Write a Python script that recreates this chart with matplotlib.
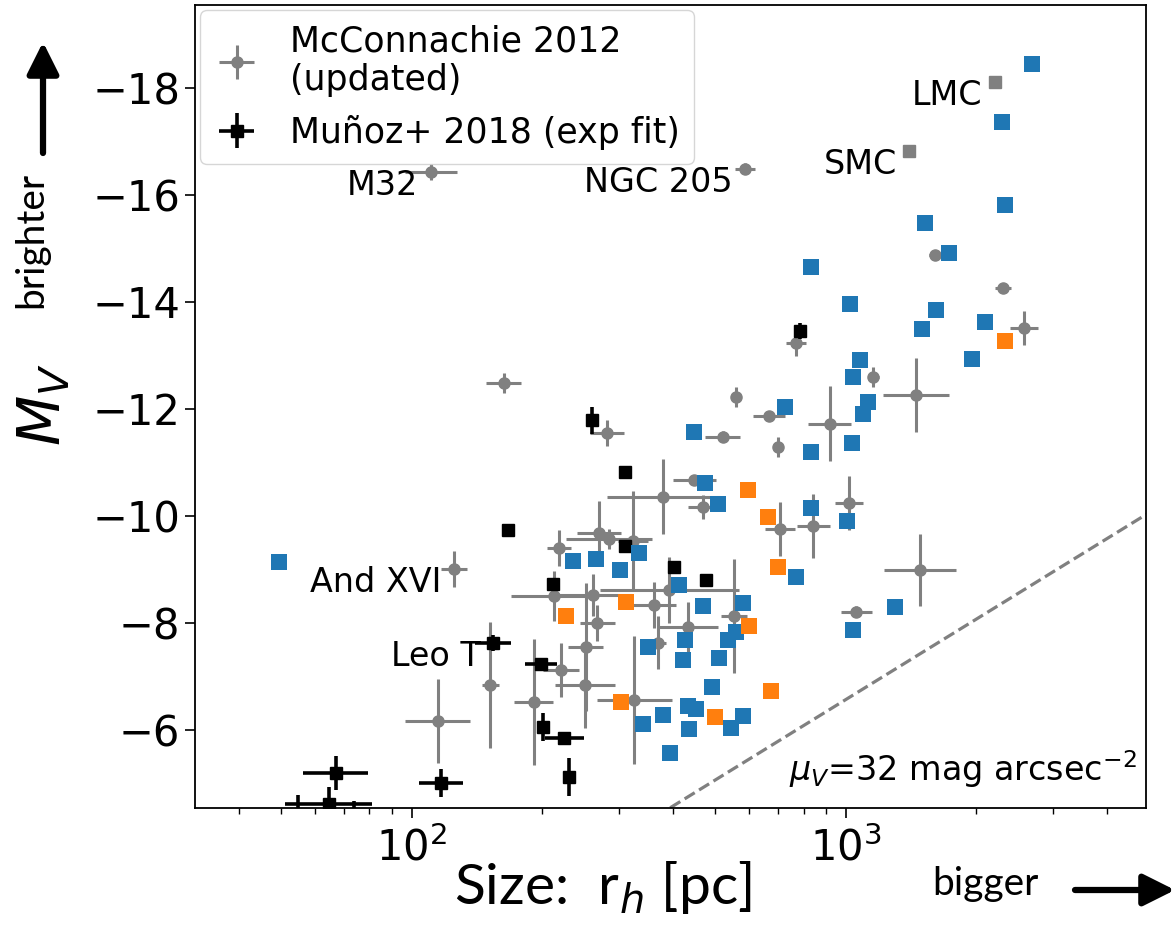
import numpy as np
import matplotlib
matplotlib.use("Agg")
import matplotlib.pyplot as plt

# McConnachie 2012 (updated): half-light radius [pc], M_V, errors (dex in r_h, mag in M_V)
mc_r = [110.6, 586, 163, 282, 380, 270, 285, 324, 219, 125, 213, 262, 268, 362, 392,
        152, 221, 252, 251, 191, 326, 115, 370, 433, 553, 1059, 1486, 705, 843, 1016,
        469, 448, 521, 698, 665, 558, 918, 1159, 1449, 767, 1603, 2307, 2578]
mc_mv = [-16.43, -16.49, -12.49, -11.55, -10.36, -9.68, -9.57, -9.53, -9.40, -9.01,
         -8.50, -8.52, -8.00, -8.34, -8.62, -6.84, -7.12, -7.55, -6.84, -6.52, -6.56,
         -6.17, -7.63, -7.93, -8.13, -8.21, -8.99, -9.76, -9.81, -10.24, -10.17, -10.67,
         -11.48, -11.29, -11.87, -12.22, -11.72, -12.60, -12.26, -13.23, -14.88, -14.26,
         -13.51]
mc_rerr_dex = [0.06, 0.023, 0.041, 0.04, 0.13, 0.05, 0.1, 0.035, 0.028, 0.03, 0.1, 0.09,
               0.04, 0.05, 0.16, 0.02, 0.042, 0.04, 0.07, 0.044, 0.087, 0.075, 0.018,
               0.07, 0.03, 0.035, 0.083, 0.035, 0.037, 0.032, 0.035, 0.05, 0.04, 0.008,
               0.037, 0.01, 0.05, 0.012, 0.076, 0.023, 0.014, 0.018, 0.032]
mc_mverr = [0.15, 0.1, 0.19, 0.25, 0.7, 0.6, 0.19, 0.93, 0.34, 0.34, 0.47, 0.4, 0.34,
            0.43, 0.62, 1.18, 0.5, 1.2, 0.8, 1.18, 1.2, 0.79, 0.5, 0.47, 1.07, 0.1, 0.67,
            0.5, 0.6, 0.5, 0.22, 0.1, 0.1, 0.19, 0.1, 0.19, 0.7, 0.19, 0.7, 0.25, 0.08,
            0.06, 0.32]

# Magellanic Clouds (no errors)
mcloud_names = ["LMC", "SMC"]
mcloud_r = [2203, 1403]
mcloud_mv = [-18.11, -16.82]

# Munoz+ 2018 exponential fits
mu_r = [783, 261, 310, 167, 310, 212, 403, 476, 154, 199, 201, 225, 230, 66.8, 117,
        64.4, 54.7, 73.6]
mu_mv = [-13.46, -11.79, -10.82, -9.74, -9.44, -8.73, -9.05, -8.80, -7.63, -7.23,
         -6.06, -5.85, -5.12, -5.20, -5.01, -4.62, -4.40, -4.40]
mu_rerr_dex = [0.007, 0.007, 0.007, 0.005, 0.005, 0.005, 0.005, 0.005, 0.041, 0.037,
               0.007, 0.044, 0.007, 0.074, 0.05, 0.1, 0.02, 0.02]
mu_mverr = [0.15, 0.25, 0.1, 0.05, 0.05, 0.05, 0.05, 0.05, 0.15, 0.1, 0.26, 0.1, 0.36,
            0.32, 0.26, 0.32, 0.38, 0.28]

# predicted dwarfs
blue_r = [49.4, 2692, 2286, 2333, 1521, 1726, 832, 1026, 1611, 1496, 2099, 1959, 1077,
          1042, 1125, 1094, 724, 448, 832, 1037, 474, 508, 832, 1005, 236, 266, 302,
          334, 413, 767, 469, 579, 1297, 1042, 427, 351, 558, 535, 422, 511, 492, 433,
          452, 579, 544, 435, 380, 341, 394]
blue_mv = [-9.14, -18.45, -17.36, -15.81, -15.48, -14.92, -14.65, -13.96, -13.85, -13.50,
           -13.63, -12.93, -12.92, -12.60, -12.13, -11.91, -12.04, -11.57, -11.20, -11.36,
           -10.62, -10.22, -10.15, -9.91, -9.16, -9.20, -8.99, -9.31, -8.71, -8.86,
           -8.32, -8.37, -8.30, -7.87, -7.68, -7.55, -7.83, -7.68, -7.31, -7.35, -6.80,
           -6.45, -6.39, -6.26, -6.04, -6.02, -6.28, -6.11, -5.57]
orange_r = [2333, 596, 662, 698, 227, 312, 598, 304, 500, 673]
orange_mv = [-13.27, -10.49, -9.98, -9.05, -8.13, -8.39, -7.94, -6.52, -6.24, -6.73]

# labelled galaxies: (name, catalogue, index)
labels = [("M32", "mc", 0), ("NGC 205", "mc", 1), ("And XVI", "mc", 9), ("Leo T", "mu", 8)]

MU_LIM = 32.0


def log_err(r, dex):
    r = np.asarray(r, float); dex = np.asarray(dex, float)
    return np.vstack([r - r / 10**dex, r * 10**dex - r])


fig = plt.figure(figsize=(11.76, 9.4), dpi=100)
ax = fig.add_axes([0.1658, 0.1404, 0.8087, 0.8543])
ax.set_xscale("log")

h_mc = ax.errorbar(mc_r, mc_mv, xerr=log_err(mc_r, mc_rerr_dex), yerr=mc_mverr,
                   fmt="o", color="gray", ms=8, elinewidth=2.2, capsize=0, zorder=2)
ax.plot(mcloud_r, mcloud_mv, "s", color="gray", ms=8.5, zorder=2)
h_mu = ax.errorbar(mu_r, mu_mv, xerr=log_err(mu_r, mu_rerr_dex), yerr=mu_mverr,
                   fmt="s", color="black", ms=8, elinewidth=2.6, capsize=0, zorder=3)
ax.scatter(blue_r, blue_mv, marker="s", s=125, color="#1f77b4", lw=0, zorder=4)
ax.scatter(orange_r, orange_mv, marker="s", s=125, color="#ff7f0e", lw=0, zorder=5)

# constant surface brightness line
rr = np.logspace(1, 4, 50)
mv_lim = MU_LIM - 36.57 - 2.5 * np.log10(2 * np.pi * (rr / 1000.0)**2)
ax.plot(rr, mv_lim, "--", color="gray", lw=2.3, zorder=1)
ax.text(0.99, 0.022, r"$\mu_V$=32 mag arcsec$^{-2}$", transform=ax.transAxes,
        ha="right", va="bottom", fontsize=24)

for name, cat, i in labels:
    xy = (mc_r[i], mc_mv[i]) if cat == "mc" else (mu_r[i], mu_mv[i])
    ax.annotate(name, xy, xytext=(-9, -10), textcoords="offset points",
                ha="right", va="center", fontsize=24)
for name, r, mv in zip(mcloud_names, mcloud_r, mcloud_mv):
    ax.annotate(name, (r, mv), xytext=(-9, -10), textcoords="offset points",
                ha="right", va="center", fontsize=24)

ax.set_xlim(31.7, 4920)
ax.set_ylim(-4.54, -19.55)
ax.set_yticks([-18, -16, -14, -12, -10, -8, -6])
ax.tick_params(which="major", labelsize=30, length=7, width=1.2)
ax.tick_params(axis="x", which="major", pad=7)
ax.tick_params(which="minor", length=4, width=1.0)
for sp in ax.spines.values():
    sp.set_linewidth(1.3)

ax.legend([h_mc, h_mu], ["McConnachie 2012\n(updated)", "Muñoz+ 2018 (exp fit)"],
          loc="upper left", fontsize=25, borderaxespad=0.15, handlelength=1.3,
          handletextpad=0.9, labelspacing=0.5, borderpad=0.4)

# axis labels and direction hints
W, H = 1176, 940
fig.text(44 / W, 1 - 405 / H, r"$M_V$", rotation=90, ha="center", va="center", fontsize=42)
fig.text(603 / W, 1 - 888 / H, r"Size:  r$_h$ [pc]", ha="center", va="center",
         fontsize=41, family="Lato")
fig.text(31 / W, 1 - 240 / H, "brighter", rotation=90, ha="center", va="center",
         fontsize=28, family=["Liberation Sans Narrow", "Lato"])
fig.text(985 / W, 1 - 884 / H, "bigger", ha="center", va="center", fontsize=28,
         family=["Liberation Sans Narrow", "Lato"])
arrow = dict(arrowstyle="-|>,head_length=0.8,head_width=0.4", lw=4.5, color="black",
             mutation_scale=24, shrinkA=0, shrinkB=0)
ax.annotate("", xy=(43, H - 42), xytext=(43, H - 153), xycoords="figure pixels",
            textcoords="figure pixels", arrowprops=arrow, annotation_clip=False)
ax.annotate("", xy=(1175, H - 890), xytext=(1075, H - 890), xycoords="figure pixels",
            textcoords="figure pixels", arrowprops=arrow, annotation_clip=False)

fig.savefig("out.png", dpi=100)
